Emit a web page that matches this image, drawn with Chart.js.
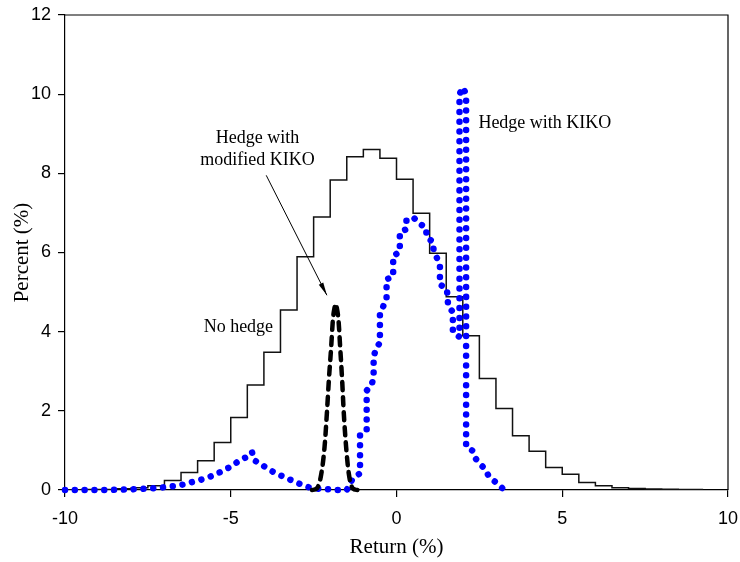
<!DOCTYPE html>
<html>
<head>
<meta charset="utf-8">
<script src="https://cdn.jsdelivr.net/npm/chart.js@4.4.1/dist/chart.umd.min.js"></script>
<style>
    html, body { margin: 0; padding: 0; background: #fff; }
</style>
</head>
<body>
<canvas id="ResultData" width="740" height="562"></canvas>
<script>
// No hedge histogram: left bin edges (0.5 wide) and percent in each bin
const noHedgeEdges = [-10, -9.5, -9, -8.5, -8, -7.5, -7, -6.5, -6, -5.5, -5, -4.5, -4, -3.5, -3, -2.5, -2, -1.5, -1, -0.5,
    0, 0.5, 1, 1.5, 2, 2.5, 3, 3.5, 4, 4.5, 5, 5.5, 6, 6.5, 7, 7.5, 8, 8.5, 9];
const noHedgePct = [0.005, 0.01, 0.015, 0.03, 0.06, 0.11, 0.24, 0.44, 0.74, 1.2, 1.83, 2.65, 3.48, 4.55, 5.89, 6.9, 7.83, 8.42, 8.6, 8.38,
    7.85, 6.99, 5.98, 4.88, 3.9, 2.82, 2.06, 1.37, 0.98, 0.57, 0.4, 0.19, 0.11, 0.06, 0.035, 0.025, 0.02, 0.015, 0.01];
const noHedgeEnd = 9.25;

// Hedge with KIKO (blue dotted)
const kikoX = [-10, -9.7, -9.4, -9.1, -8.8, -8.5, -8.2, -7.9, -7.6, -7.3, -7.0, -6.7, -6.42, -6.17, -5.94, -5.71, -5.49, -5.27, -5.07, -4.9,
    -4.71, -4.5, -4.36, -4.29, -4.08, -3.9, -3.7, -3.5, -3.28, -3.08, -2.87, -2.65, -2.34, -2.07, -1.8, -1.5, -1.32, -1.1, -1.1, -0.9,
    -0.9, -0.75, -0.69, -0.69, -0.62, -0.5, -0.5, -0.3, -0.3, -0.1, -0.1, 0.1, 0.1, 0.3, 0.3, 0.54, 0.71, 0.89, 0.91, 1.1,
    1.12, 1.31, 1.31, 1.52, 1.56, 1.7, 1.7, 1.9, 1.9, 2.0, 2.1, 2.1, 2.3, 2.38, 2.52, 2.68, 2.78, 2.93, 3.09, 3.25];
const kikoPct = [0, 0, 0, 0, 0, 0.005, 0.01, 0.02, 0.03, 0.045, 0.07, 0.1, 0.14, 0.2, 0.25, 0.31, 0.38, 0.47, 0.56, 0.65,
    0.76, 0.84, 0.96, 0.75, 0.65, 0.54, 0.45, 0.37, 0.29, 0.21, 0.14, 0.07, 0.03, 0.02, 0, 0, 0.29, 0.42, 1.41, 1.52,
    2.51, 2.65, 2.86, 3.35, 3.58, 3.72, 4.46, 4.82, 5.32, 5.4, 5.91, 6.02, 6.51, 6.59, 6.84, 6.86, 6.72, 6.63, 6.38, 6.27,
    6.04, 5.7, 5.19, 5.09, 4.63, 4.5, 3.98, 3.87, 10.0, 10.17, 10.0, 1.09, 0.99, 0.8, 0.66, 0.52, 0.35, 0.24, 0.13, 0];

// Hedge with modified KIKO (black dashed)
const modX = [-2.55, -2.4, -2.27, -2.17, -2.1, -2.04, -1.97, -1.92, -1.87, -1.84, -1.8, -1.75, -1.7, -1.64, -1.59, -1.52, -1.44, -1.32, -1.18];
const modPct = [0, 0.04, 0.4, 1.09, 1.94, 2.78, 3.62, 4.29, 4.6, 4.7, 4.6, 4.29, 3.62, 2.78, 1.94, 1.09, 0.42, 0.04, 0];

const xTicks = [-10, -5, 0, 5, 10];
const yTicks = [0, 2, 4, 6, 8, 10, 12];

const ItemChart = document.getElementById("ResultData");

const noHedgeData = noHedgeEdges.map((x, i) => ({ x: x, y: noHedgePct[i] }));
noHedgeData.push({ x: noHedgeEnd, y: noHedgePct[noHedgePct.length - 1] });
const kikoData = kikoX.map((x, i) => ({ x: x, y: kikoPct[i] }));
const modData = modX.map((x, i) => ({ x: x, y: modPct[i] }));

// text labels in data units
const notes = [
    { text: "Hedge with KIKO", x: 2.47, y: 9.27, align: "left" },
    { text: "Hedge with", x: -4.19, y: 8.89, align: "center" },
    { text: "modified KIKO", x: -4.19, y: 8.33, align: "center" },
    { text: "No hedge", x: -4.77, y: 4.12, align: "center" },
];
const arrowFrom = { x: -3.93, y: 7.95 };
const arrowTo = { x: -2.1, y: 4.92 };

const extras = {
    id: "extras",
    afterDatasetsDraw(chart) {
        const { ctx, chartArea, scales } = chart;
        ctx.save();
        ctx.strokeStyle = "#000";
        ctx.lineWidth = 1.2;
        ctx.beginPath();
        ctx.moveTo(chartArea.left, chartArea.top);
        ctx.lineTo(chartArea.right, chartArea.top);
        ctx.lineTo(chartArea.right, chartArea.bottom);
        ctx.stroke();

        ctx.fillStyle = "#000";
        ctx.font = "18px 'Liberation Serif', 'Times New Roman', serif";
        ctx.textBaseline = "middle";
        notes.forEach((n) => {
            ctx.textAlign = n.align;
            ctx.fillText(n.text, scales.x.getPixelForValue(n.x), scales.y.getPixelForValue(n.y));
        });

        // arrow
        const x1 = scales.x.getPixelForValue(arrowFrom.x);
        const y1 = scales.y.getPixelForValue(arrowFrom.y);
        const x2 = scales.x.getPixelForValue(arrowTo.x);
        const y2 = scales.y.getPixelForValue(arrowTo.y);
        const ang = Math.atan2(y2 - y1, x2 - x1);
        ctx.lineWidth = 1;
        ctx.beginPath();
        ctx.moveTo(x1, y1);
        ctx.lineTo(x2, y2);
        ctx.stroke();
        ctx.beginPath();
        ctx.moveTo(x2, y2);
        ctx.lineTo(x2 - 13 * Math.cos(ang) + 2.5 * Math.sin(ang), y2 - 13 * Math.sin(ang) - 2.5 * Math.cos(ang));
        ctx.lineTo(x2 - 13 * Math.cos(ang) - 2.5 * Math.sin(ang), y2 - 13 * Math.sin(ang) + 2.5 * Math.cos(ang));
        ctx.closePath();
        ctx.fill();
        ctx.restore();
    },
};

new Chart(ItemChart, {
    type: "line",
    data: {
        datasets: [
            {
                label: "Hedge with modified KIKO",
                data: modData,
                borderColor: "#000",
                borderWidth: 4.5,
                borderDash: [8, 7],
                borderCapStyle: "round",
                cubicInterpolationMode: "monotone",
                pointRadius: 0,
                fill: false,
                clip: 8,
                order: 1,
            },
            {
                label: "Hedge with KIKO",
                data: kikoData,
                borderColor: "#0000ff",
                borderWidth: 6.5,
                borderDash: [0.01, 9.8],
                borderCapStyle: "round",
                tension: 0,
                pointRadius: 0,
                fill: false,
                clip: 8,
                order: 2,
            },
            {
                label: "No hedge",
                data: noHedgeData,
                borderColor: "#111",
                borderWidth: 1.5,
                stepped: true,
                pointRadius: 0,
                fill: false,
                order: 3,
            },
        ],
    },
    options: {
        responsive: false,
        animation: false,
        events: [],
        layout: { padding: 0 },
        plugins: {
            legend: { display: false },
            tooltip: { enabled: false },
        },
        scales: {
            x: {
                type: "linear",
                min: -10,
                max: 10,
                afterFit: (scale) => {
                    scale.height = 72;
                    scale.paddingLeft = 0;
                    scale.paddingRight = 12;
                },
                afterBuildTicks: (scale) => { scale.ticks = xTicks.map((v) => ({ value: v })); },
                grid: { display: true, drawOnChartArea: false, drawTicks: true, tickLength: 7, color: "#000", lineWidth: 1.2 },
                border: { display: true, color: "#000", width: 1.2 },
                ticks: {
                    color: "#000",
                    padding: 11,
                    maxRotation: 0,
                    font: { family: "'Liberation Sans', Arial, sans-serif", size: 18 },
                },
                title: {
                    display: true,
                    text: "Return (%)",
                    color: "#000",
                    padding: { top: 2, bottom: 2 },
                    font: { family: "'Liberation Serif', 'Times New Roman', serif", size: 21 },
                },
            },
            y: {
                type: "linear",
                min: 0,
                max: 12,
                afterFit: (scale) => {
                    scale.width = 65;
                    scale.paddingTop = 15;
                    scale.paddingBottom = 0;
                },
                afterBuildTicks: (scale) => { scale.ticks = yTicks.map((v) => ({ value: v })); },
                grid: { display: true, drawOnChartArea: false, drawTicks: true, tickLength: 7, color: "#000", lineWidth: 1.2 },
                border: { display: true, color: "#000", width: 1.2 },
                ticks: {
                    color: "#000",
                    padding: 7,
                    font: { family: "'Liberation Sans', Arial, sans-serif", size: 18 },
                },
                title: {
                    display: true,
                    text: "Percent (%)",
                    color: "#000",
                    padding: { top: 10, bottom: 10 },
                    font: { family: "'Liberation Serif', 'Times New Roman', serif", size: 21 },
                },
            },
        },
    },
    plugins: [extras],
});
</script>
</body>
</html>
